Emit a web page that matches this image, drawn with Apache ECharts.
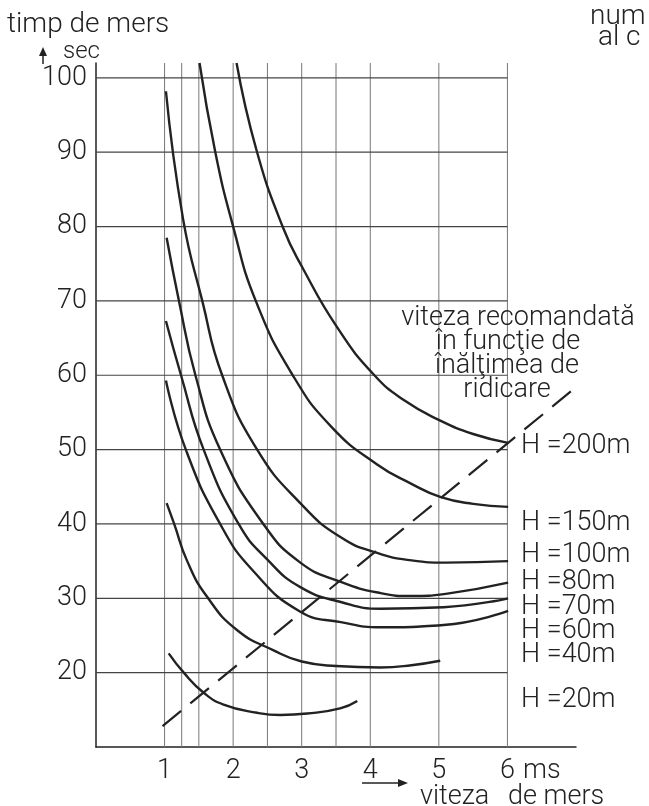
<!DOCTYPE html>
<html><head><meta charset="utf-8">
<script src="https://cdn.jsdelivr.net/npm/echarts@6/dist/echarts.min.js"></script>
<style>html,body{margin:0;padding:0;background:#fff}#c{width:649px;height:806px}</style>
</head><body><div id="c"></div>
<script>
// ---- data ----
const xTickLabels = [1, 2, 3, 4, 5, 6];
const yTickLabels = [20, 30, 40, 50, 60, 70, 80, 90, 100];
const gridX = [1, 1.25, 1.5, 2, 2.5, 3, 3.5, 4, 5, 6];
const gridY = [20, 30, 40, 50, 60, 70, 80, 90, 100];

const H200 = [[2.05,102],[2.34,90.3],[2.73,79.8],[3.01,74.5],[3.52,66.4],[4.06,60],[4.5,56.6],[5.02,53.9],[5.5,52.1],[6.01,50.9]];
const H150 = [[1.51,102],[1.74,90],[2.0,80],[2.33,70],[2.87,60],[3.44,53.0],[4.1,48.0],[4.6,45.4],[5.03,43.6],[5.5,42.7],[6.01,42.3]];
const H100 = [[1.02,98.2],[1.27,81.0],[1.55,70.0],[1.84,60],[2.35,50],[3.0,42.6],[3.57,38.2],[4.1,36.1],[4.6,35.1],[5.1,34.8],[6.01,35.0]];
const H80  = [[1.03,78.5],[1.21,70],[1.45,60],[1.81,50],[2.44,40],[2.98,34.8],[3.57,32.2],[4.15,30.7],[4.6,30.3],[5.1,30.6],[6.01,32.1]];
const H70  = [[1.02,67.3],[1.24,60],[1.57,50],[2.08,40],[2.5,35.2],[2.98,31.5],[3.57,29.5],[4.15,28.6],[5.07,28.8],[6.01,30.0]];
const H60  = [[1.02,59.3],[1.31,50],[1.81,40],[2.3,33.6],[2.98,28.2],[3.57,26.8],[4.15,26.1],[5.07,26.4],[6.01,28.3]];
const H40  = [[1.03,42.8],[1.14,40],[1.33,35],[1.62,30.2],[2.06,25.7],[2.59,23.0],[3.0,21.5],[3.5,20.9],[4.15,20.7],[4.6,21.0],[5.02,21.6]];
const H20  = [[1.06,22.6],[1.28,20.0],[1.57,17.3],[1.86,15.7],[2.35,14.6],[2.69,14.3],[3.08,14.5],[3.56,15.2],[3.81,16.2]];
const recommended = [[0.97,12.8],[7.0,58.4]];

const curveNames = ['H =200m','H =150m','H =100m','H =80m','H =70m','H =60m','H =40m','H =20m'];
const curves = [H200, H150, H100, H80, H70, H60, H40, H20];

// ---- styles ----
const FONT = "Roboto, 'Liberation Sans', sans-serif";
const INK = '#222';

const chart = echarts.init(document.getElementById('c'), null, {renderer: 'canvas'});

const series = [];
gridX.forEach(gx => series.push({
  type: 'line', data: [[gx, 10], [gx, 102]], symbol: 'none', silent: true, clip: false,
  lineStyle: {color: '#777', width: 1}, z: 1
}));
gridY.forEach(gy => series.push({
  type: 'line', data: [[0, gy], [6, gy]], symbol: 'none', silent: true, clip: false,
  lineStyle: {color: '#444', width: 1.2}, z: 1
}));
curves.forEach((d, i) => series.push({
  name: curveNames[i], type: 'line', data: d, symbol: 'none', clip: false,
  smooth: 0.5,
  lineStyle: {color: INK, width: 2.4}, z: 3
}));
series.push({
  type: 'line', data: recommended, symbol: 'none', clip: false,
  lineStyle: {color: INK, width: 2.2, type: [24, 12]}, z: 3
});

function txt(x, y, text, size, align) {
  return {type: 'text', x: x, y: y, z: 10,
    style: {text: text, font: '300 ' + size + 'px ' + FONT, fill: INK,
      align: align || 'left', verticalAlign: 'middle'}};
}

const option = {
  backgroundColor: '#fff',
  animation: false,
  grid: {left: 96, right: 73, top: 63, bottom: 59, containLabel: false},
  xAxis: {
    type: 'value', min: 0, max: 7, interval: 1,
    axisLine: {show: true, lineStyle: {color: INK, width: 1.5}},
    axisTick: {show: false}, splitLine: {show: false},
    axisLabel: {color: INK, fontSize: 27, fontFamily: FONT, fontWeight: 300, margin: 11,
      formatter: v => xTickLabels.includes(v) ? String(v) : ''}
  },
  yAxis: {
    type: 'value', min: 10, max: 102, interval: 10,
    axisLine: {show: true, lineStyle: {color: INK, width: 1.5}},
    axisTick: {show: false}, splitLine: {show: false},
    axisLabel: {color: INK, fontSize: 27, fontFamily: FONT, fontWeight: 300, margin: 9,
      formatter: v => yTickLabels.includes(v) ? String(v) : ''}
  },
  series: series,
  graphic: [
    txt(7, 25, 'timp de mers', 28),
    txt(63, 52, 'sec', 24),
    {type: 'line', z: 10, shape: {x1: 43, y1: 64, x2: 43, y2: 49}, style: {stroke: INK, lineWidth: 1.5}},
    {type: 'polygon', z: 10, shape: {points: [[39, 56], [43, 47], [47, 56]]}, style: {fill: INK}},
    txt(590, 17, 'num', 28),
    txt(598, 38, 'al c', 28),
    txt(518, 318, 'viteza recomandată', 27, 'center'),
    txt(508, 342, 'în funcţie de', 27, 'center'),
    txt(507, 366, 'înălţimea de', 27, 'center'),
    txt(507, 390, 'ridicare', 27, 'center'),
    txt(521, 446, curveNames[0], 27),
    txt(521, 523, curveNames[1], 27),
    txt(521, 555, curveNames[2], 27),
    txt(521, 582, curveNames[3], 27),
    txt(521, 607, curveNames[4], 27),
    txt(521, 631, curveNames[5], 27),
    txt(521, 655, curveNames[6], 27),
    txt(521, 700, curveNames[7], 27),
    txt(523, 771, 'ms', 27),
    {type: 'line', z: 10, shape: {x1: 362, y1: 783, x2: 404, y2: 783}, style: {stroke: INK, lineWidth: 1.3}},
    {type: 'polygon', z: 10, shape: {points: [[398, 779], [408, 783], [398, 787]]}, style: {fill: INK}},
    txt(420, 797, 'viteza', 27),
    txt(508, 797, 'de mers', 27)
  ]
};
chart.setOption(option);
</script>
</body></html>
